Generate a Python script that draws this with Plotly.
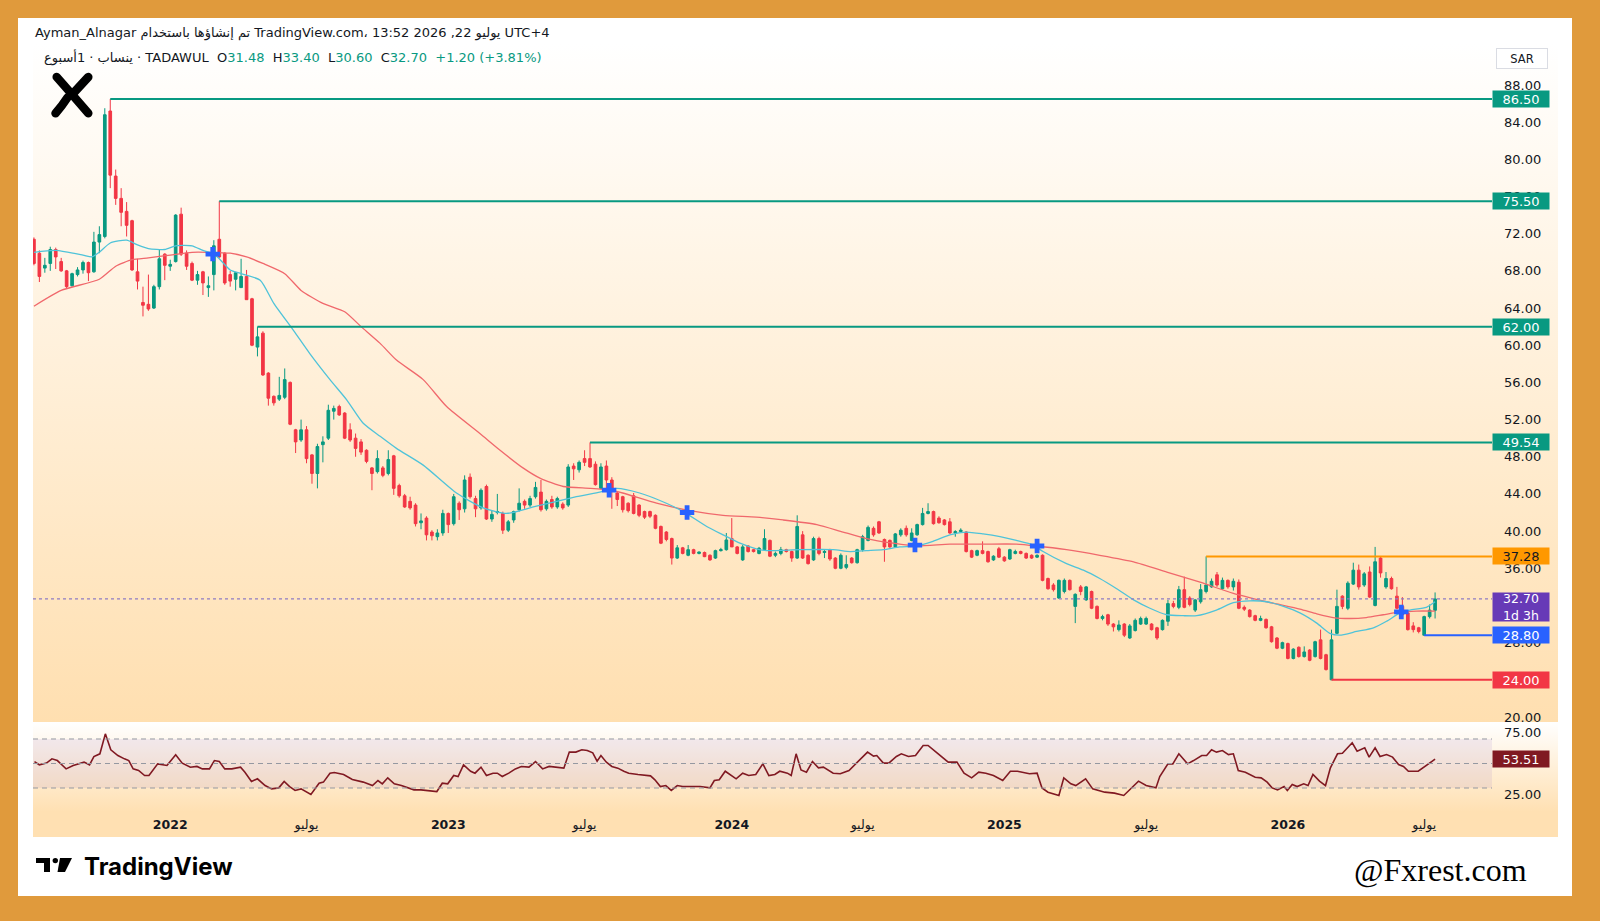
import base64
import plotly.graph_objects as go

# ---------------- data ----------------
opens = [71.4,69.9,68.3,68.8,70.3,69.0,68.0,66.4,67.6,68.1,68.9,67.9,71.1,71.7,85.2,78.2,75.8,74.4,73.4,67.9,
         64.6,64.4,64.0,66.3,69.8,68.5,69.0,74.1,69.9,68.8,67.0,67.9,66.2,67.6,71.4,69.9,67.6,67.1,66.2,67.4,
         65.0,59.8,61.3,57.0,54.5,54.2,54.4,56.0,50.9,49.8,50.9,48.2,46.2,49.3,50.0,52.9,53.4,52.7,50.9,50.0,
         49.6,48.7,46.8,46.4,46.8,46.2,48.1,44.9,43.8,43.2,42.8,40.9,41.4,39.9,39.4,39.8,41.9,40.8,43.0,42.4,
         45.8,43.5,42.5,44.8,41.3,42.0,41.9,40.1,41.2,42.3,43.2,42.8,43.7,44.2,42.4,43.4,42.6,42.9,42.8,47.0,
         46.6,47.8,47.8,47.2,44.6,47.0,45.5,44.1,43.7,43.0,43.8,42.8,42.1,42.1,41.7,40.5,39.9,39.2,37.1,38.2,
         37.4,38.0,37.6,37.7,37.4,37.1,37.9,38.0,39.2,38.3,36.9,38.4,38.0,37.6,38.0,39.0,37.4,37.6,38.0,37.8,
         37.1,39.6,37.4,36.9,39.2,37.7,38.0,37.1,36.0,36.1,37.1,36.6,38.0,39.0,40.3,41.0,39.1,39.0,38.3,39.6,
         40.3,39.0,39.6,40.7,41.9,42.1,41.4,41.2,41.0,39.8,39.95,39.9,37.9,37.4,37.9,37.8,36.9,38.1,37.2,37.0,
         37.6,37.8,37.6,37.4,37.2,37.4,34.9,34.2,32.8,33.5,34.7,31.9,34.0,32.6,33.5,31.9,30.6,31.0,30.0,29.4,
         30.0,28.5,29.3,30.0,30.0,30.0,29.6,29.4,30.3,32.2,31.8,33.7,32.8,31.5,32.4,33.5,34.0,35.3,33.8,34.7,
         34.0,34.5,31.8,31.5,30.9,30.4,30.5,29.7,28.5,27.4,27.9,26.3,27.5,26.5,27.2,26.5,28.3,26.7,24.0,29.0,
         33.0,31.7,34.3,35.8,34.2,35.6,32.0,37.1,34.0,34.9,33.0,31.9,31.2,29.8,29.6,28.8,30.8,31.48]
highs = [71.6,70.2,69.4,70.6,70.5,69.4,68.1,67.8,68.4,69.1,69.0,72.2,72.8,85.5,86.5,78.9,76.9,75.4,73.5,69.3,
         66.3,67.6,66.5,70.3,69.9,69.2,74.1,74.8,70.2,69.0,68.0,68.0,67.4,71.3,75.5,70.0,68.0,67.9,69.3,68.1,
         65.1,62.0,61.5,57.1,54.6,56.6,57.5,56.1,51.0,52.0,51.3,48.3,49.4,50.2,53.6,53.5,53.6,52.8,51.6,50.5,
         49.9,48.8,46.9,48.7,47.0,48.7,48.2,45.1,44.0,43.7,43.0,41.9,41.6,40.1,40.2,42.3,42.0,44.0,43.2,46.0,
         46.2,43.8,44.6,45.0,42.2,44.0,42.1,41.2,42.2,44.6,43.4,43.8,45.3,45.5,43.4,43.8,43.7,43.1,47.2,47.3,
         47.6,48.7,49.54,47.5,47.3,47.6,45.8,44.2,43.8,43.1,44.1,42.9,42.2,42.2,41.8,40.6,40.0,39.3,38.5,38.3,
         38.5,38.1,37.8,37.8,37.5,38.0,38.2,39.8,41.4,38.4,38.5,38.5,38.1,38.3,40.2,39.1,37.8,38.3,38.1,37.9,
         41.7,40.0,37.5,39.4,39.4,38.0,38.1,37.2,37.6,37.4,37.2,38.1,39.6,40.6,40.5,41.1,39.2,39.1,39.8,40.3,
         40.6,40.3,40.8,42.5,43.0,42.2,41.6,41.3,41.4,40.1,40.3,40.0,38.0,38.0,38.9,37.9,37.4,38.3,37.3,38.1,
         38.0,37.9,37.7,37.5,37.5,37.5,35.0,34.4,34.8,34.9,34.8,33.3,34.2,34.1,33.6,32.0,31.0,31.1,30.1,30.4,
         30.1,30.0,30.6,30.8,30.8,30.1,29.7,30.5,32.6,32.5,34.1,35.1,33.0,32.7,34.3,37.28,34.9,35.6,35.0,34.8,
         34.9,34.8,32.0,31.6,31.0,30.9,30.6,29.8,28.6,28.1,28.0,27.4,27.6,27.6,27.3,28.2,29.4,26.8,29.4,33.7,
         33.1,34.6,36.6,36.4,35.6,36.2,38.3,37.3,35.6,35.1,34.0,32.9,31.3,30.2,29.7,30.9,32.1,33.40]
lows = [68.6,66.8,67.8,68.0,68.2,67.9,66.1,66.3,67.4,67.7,66.9,67.8,69.9,71.5,76.9,75.1,72.8,71.7,68.0,66.0,
        63.1,63.7,63.9,66.0,67.0,68.0,68.9,69.6,68.1,66.9,66.5,65.4,65.2,65.9,69.4,66.5,66.3,65.9,66.2,64.9,
        59.9,58.8,56.7,53.5,53.5,54.0,54.2,51.4,48.4,49.6,47.3,45.1,44.6,47.4,49.8,52.0,52.4,49.9,49.6,48.0,
        48.2,47.3,44.4,46.2,45.8,46.0,43.9,43.6,42.5,42.3,40.5,40.2,39.0,39.0,39.0,39.5,39.8,40.6,41.2,42.0,
        43.5,41.5,42.3,41.2,41.0,41.8,39.7,39.9,40.9,42.1,42.4,42.6,43.5,42.1,42.2,42.4,42.4,42.3,42.6,45.5,
        46.3,47.0,46.8,44.9,44.5,44.5,42.4,42.7,42.0,42.0,41.8,41.5,41.3,41.4,40.2,38.6,38.9,36.4,37.0,37.5,
        37.3,37.5,37.5,37.2,36.8,37.0,37.8,37.9,38.3,37.5,36.8,37.7,37.7,37.5,37.9,37.2,37.2,37.4,37.7,36.7,
        37.0,37.0,36.4,36.8,37.4,37.1,36.8,35.9,35.9,35.9,36.5,36.5,37.8,38.9,39.4,39.7,36.7,38.2,38.2,39.4,
        39.4,38.9,39.5,40.6,41.8,40.7,40.8,40.6,39.7,39.4,39.9,37.7,37.1,37.3,37.5,36.6,36.8,37.1,36.7,36.9,
        37.5,37.5,37.0,37.0,37.1,34.6,33.7,33.5,32.7,33.3,33.6,30.1,33.1,32.5,31.6,30.5,30.4,29.8,29.2,29.2,
        28.6,28.4,29.2,29.9,29.9,29.3,28.3,29.3,29.8,31.7,31.6,31.7,31.9,31.3,32.2,33.3,33.9,34.0,33.7,33.8,
        33.6,31.6,31.4,30.7,30.3,30.3,29.5,28.0,27.3,27.3,26.2,26.2,26.4,26.4,26.0,26.4,26.2,25.0,24.0,28.9,
        31.6,31.5,34.2,33.7,34.0,32.8,31.9,35.0,33.8,33.7,31.6,30.9,29.3,29.1,29.0,28.8,30.6,30.60]
closes = [68.8,67.4,68.6,70.3,69.5,68.0,66.3,67.7,68.1,68.9,67.8,71.1,71.9,84.8,78.3,75.8,74.3,72.9,68.1,66.9,
          64.3,63.9,66.3,69.3,68.6,68.7,74.0,69.8,68.5,67.0,67.6,66.7,66.4,70.7,69.5,66.7,66.9,67.8,67.4,64.9,
          60.0,60.9,56.8,54.3,53.8,54.6,56.3,51.5,49.6,50.9,47.8,46.2,49.1,49.6,53.0,53.2,52.5,50.0,49.8,48.9,
          48.5,47.5,46.2,47.8,46.0,47.7,44.6,43.8,42.6,42.5,40.8,41.1,39.6,39.5,39.8,41.9,40.7,43.7,42.3,45.5,
          43.7,42.4,44.4,41.3,41.8,42.1,40.1,41.0,42.1,43.0,42.8,43.5,44.7,42.3,43.2,42.6,43.5,42.5,46.9,46.7,
          47.4,47.4,46.9,45.0,46.9,45.5,44.6,43.4,42.3,42.2,41.9,41.7,41.5,41.6,40.3,38.7,39.1,37.1,38.2,37.6,
          38.0,37.6,37.75,37.25,36.9,37.9,38.0,39.05,38.3,37.6,38.3,37.8,37.8,38.15,39.2,37.3,37.6,38.0,37.8,37.1,
          40.5,37.1,36.5,39.2,37.6,37.8,37.0,36.0,37.4,36.4,36.6,38.0,39.4,40.4,39.6,39.8,38.3,38.3,39.7,40.1,
          39.6,39.8,40.7,41.9,42.1,40.8,40.9,40.7,39.8,39.95,40.1,37.8,37.2,37.9,37.6,36.7,37.3,37.2,36.8,38.0,
          37.8,37.6,37.1,37.1,37.4,34.7,33.8,33.7,34.7,34.7,33.7,33.2,33.5,34.0,31.7,30.6,30.8,30.0,29.7,29.9,
          28.8,29.8,30.4,30.6,30.6,29.4,28.5,30.4,32.2,31.9,33.7,31.8,32.1,32.6,33.7,34.2,34.6,34.2,34.7,34.0,
          34.6,31.7,31.6,30.8,30.4,30.6,29.6,28.1,27.4,28.0,26.3,27.3,26.5,27.0,26.1,28.1,26.3,25.1,28.3,31.9,
          31.9,34.4,35.8,34.0,35.4,32.9,36.7,35.5,34.9,33.8,31.7,31.0,29.4,29.4,29.2,30.8,31.5,32.70]
bar_index = list(range(len(closes)))

# moving averages (read at sampled bar positions)
ma_fast_pos = [0,4,9,10.6,12,14,17,19,21,24,26,29,31,33,34,36,38,41.5,44,47.6,50.6,54.3,57.4,60.4,63.5,66.5,
               71.4,77.5,82.4,86.7,91.6,95.9,99.5,103.8,106.9,111.1,116,119.1,123.4,126.4,129.5,132.5,134.4,
               140.5,146.6,149.7,152.7,155.8,158.8,161.9,164.9,168,171,174.1,177.2,180.2,183.3,185.1,189.4,
               192.5,195.5,198.6,201.7,204.7,207.8,210.8,213.3,216.9,220,223,226.1,229.2,232.2,235.3,237.7,
               239.5,242.6,245.7,248.1,250.6,252.4,255.4,257]
ma_fast_val = [70.0,70.2,69.7,69.5,70.0,71.0,71.3,70.8,70.4,70.3,70.7,70.7,70.2,69.8,69.3,68.1,67.7,67.0,64.5,
               61.6,59.1,56.3,54.1,51.6,50.2,48.9,47.1,44.1,42.5,41.9,42.6,43.2,43.7,44.2,44.6,44.1,43.0,42.1,
               40.5,39.6,38.7,38.1,37.9,38.0,38.0,37.8,37.9,38.0,38.3,38.4,38.9,39.6,39.9,39.7,39.4,39.0,38.5,
               37.8,36.5,35.8,34.9,33.8,32.6,31.7,31.0,30.9,30.9,31.5,32.3,32.5,32.4,31.9,31.2,30.1,29.0,28.8,
               29.2,29.6,30.3,31.2,31.5,31.8,32.4]
ma_slow_pos = [0,5,12,15,18,21,25,29,32,36,39,42,46,49,53,57,60,63.5,66.5,71.4,75.7,81.8,85.5,89.7,92.8,97.1,
               102,105.6,108,114.2,120.3,126.4,132.5,137.4,143.6,148.4,152.7,157.6,161.9,168,174.1,180.2,
               183.9,189.4,195.5,201.7,207.8,213.9,220,226.1,232.2,235.3,238.3,241.4,244.4,247.5,250.6,
               253.6,257]
ma_slow_val = [64.2,65.9,67.1,68.5,69.2,69.4,69.7,70.0,70.0,69.9,69.5,68.8,67.7,65.9,64.5,63.6,62.0,60.2,58.4,
               56.3,53.4,50.5,48.7,46.8,45.7,44.8,44.6,44.4,44.1,43.0,42.2,41.7,41.5,41.2,40.7,39.9,39.2,38.7,
               38.4,38.6,38.6,38.6,38.4,38.0,37.4,36.7,35.6,34.5,33.3,32.4,31.6,31.1,30.7,30.6,30.7,31.0,31.3,
               31.4,31.4]
cross_pos = [32.8, 105.5, 119.8, 161.6, 184.0, 250.8]
cross_val = [69.8, 44.4, 42.0, 38.5, 38.4, 31.3]

# horizontal levels (start bar, price)
level_start = [14, 34, 41, 102, 215, 238, 255]
level_price = [86.50, 75.50, 62.00, 49.54, 37.28, 24.00, 28.80]
level_color = ["#089981", "#089981", "#089981", "#089981", "#FF9800", "#F23645", "#2962FF"]
level_text_color = ["#FFFFFF", "#FFFFFF", "#FFFFFF", "#FFFFFF", "#131722", "#FFFFFF", "#FFFFFF"]
last_price = 32.70

# RSI (read at bar positions)
rsi_pos = [0.1,1.0,2.3,3.3,4.3,5.9,7.2,8.4,9.2,10.2,11.0,12.1,13.1,14.1,15.4,16.6,17.4,18.2,19.2,20.3,21.1,22.7,
           24.4,26.0,27.2,28.7,29.9,30.9,32.2,33.1,34.0,35.0,36.3,37.9,38.7,39.9,41.0,42.4,43.6,44.9,45.9,46.9,
           47.9,49.0,49.8,50.8,52.3,53.1,54.3,55.1,56.8,58.4,60.4,62.1,63.1,63.9,64.9,66.1,67.4,68.3,69.7,71.0,
           72.7,73.9,74.9,75.9,77.0,77.8,78.8,80.1,80.9,82.0,83.0,84.2,85.0,85.9,87.1,88.3,89.4,90.8,92.0,93.3,
           94.5,95.7,97.2,98.2,99.4,100.5,101.5,102.5,103.3,104.0,105.0,106.0,107.1,108.2,109.1,110.8,113.1,
           113.9,114.9,115.9,116.9,118.0,119.0,120.6,122.2,124.0,124.8,125.7,126.8,128.8,130.0,131.1,132.4,
           133.7,134.8,135.9,136.8,138.2,138.9,139.8,140.7,141.7,142.8,143.9,144.8,146.6,147.9,149.5,151.0,
           152.9,154.0,154.6,155.8,156.8,158.2,159.1,160.4,161.7,163.1,164.0,165.7,167.7,169.3,170.6,172.0,
           173.3,174.6,176.0,177.7,179.1,180.4,182.6,184.0,184.9,186.0,188.0,188.9,190.2,191.1,192.9,194.2,
           195.1,196.4,198.2,199.9,202.6,204.0,205.8,206.5,208.0,208.9,210.0,211.6,212.7,214.2,215.1,216.0,
           216.9,218.0,219.1,220.0,220.9,222.2,224.0,225.1,226.2,227.1,228.1,229.3,229.9,230.8,231.7,232.9,
           233.7,234.6,235.8,236.9,237.8,239.1,240.0,241.8,242.7,244.1,244.9,246.0,246.9,248.1,249.2,250.3,
           251.2,252.1,253.9,255.3,257.0]
rsi_val = [51.6,48.9,50.3,53.8,52.4,45.6,48.4,49.7,51.1,48.9,55.7,57.9,74.2,61.2,56.5,53.8,52.4,45.6,44.3,40.2,
           40.2,49.7,48.4,57.1,50.3,47.0,47.6,45.6,45.6,52.4,51.6,45.6,45.6,47.0,42.9,35.3,37.5,32.0,29.3,30.1,
           35.3,31.2,28.0,29.3,27.4,24.7,33.9,34.8,42.1,42.7,41.0,36.9,34.8,32.0,36.1,33.4,38.3,33.4,32.0,30.7,
           28.5,28.5,27.4,27.1,33.9,33.4,40.2,39.4,48.9,43.7,42.1,47.0,40.2,42.1,42.1,39.4,42.1,45.6,47.6,47.0,
           51.6,45.6,47.6,47.0,46.2,59.3,59.3,61.2,60.6,58.7,51.9,56.5,51.1,47.6,46.2,43.7,42.1,41.0,39.9,36.7,
           31.2,32.0,28.0,32.0,31.2,31.2,31.2,30.1,36.1,36.7,43.7,37.5,42.1,40.2,41.0,49.7,40.2,41.0,43.7,42.1,
           40.2,57.9,44.8,42.9,51.6,46.5,47.0,42.1,41.6,44.3,51.1,59.3,56.0,56.5,50.3,50.3,55.7,57.9,55.7,56.5,
           64.7,64.7,58.4,51.1,51.1,42.1,38.3,42.9,42.1,40.2,36.1,43.7,43.7,41.6,42.1,30.1,26.6,23.9,38.3,33.4,
           32.0,37.5,29.3,28.0,26.6,25.8,23.9,35.6,32.0,30.1,39.4,49.7,49.7,57.9,49.7,52.4,56.5,56.5,61.2,59.3,
           60.6,57.3,57.9,44.3,42.9,38.8,38.3,34.8,30.1,28.5,31.2,28.0,32.9,31.2,33.4,32.0,41.0,35.6,32.0,46.5,
           57.9,58.4,66.9,60.1,62.8,55.2,62.8,55.7,57.3,55.2,49.2,47.6,43.7,43.7,48.4,53.51]
rsi_last = 53.51

# time axis labels (bar index of first bar of period)
time_tick_pos = [25, 50, 76, 101, 128, 152, 178, 204, 230, 255]
time_tick_text = ["<b>2022</b>", "يوليو", "<b>2023</b>", "يوليو", "<b>2024</b>", "يوليو",
                  "<b>2025</b>", "يوليو", "<b>2026</b>", "يوليو"]
price_ticks = [20, 28, 36, 40, 44, 48, 52, 56, 60, 64, 68, 72, 76, 80, 84, 88]

# ---------------- layout geometry ----------------
W, H = 1600, 921
ML, MR, MT, MB = 33, 108, 44, 109
PW, PH = W - ML - MR, H - MT - MB
XR = [-0.17, 267.44]
Y1R = [19.57, 92.41]
Y2R = [10.41, 83.88]


def fx(p):
    return (p - ML) / PW


def fy(p):
    return (H - MB - p) / PH


GREEN, RED = "#089981", "#F23645"
FONT = "DejaVu Sans"

svg = f'''<svg xmlns="http://www.w3.org/2000/svg" width="{W}" height="{H}" viewBox="0 0 {W} {H}">
<defs>
<linearGradient id="g1" x1="0" y1="0" x2="0" y2="1"><stop offset="0" stop-color="#FFFFFF"/><stop offset="1" stop-color="#FFDFB0"/></linearGradient>
<linearGradient id="g2" x1="0" y1="0" x2="0" y2="1"><stop offset="0" stop-color="#FFFFFF"/><stop offset="0.78" stop-color="#FFE0B2"/><stop offset="1" stop-color="#FFE0B2"/></linearGradient>
</defs>
<rect width="{W}" height="{H}" fill="#E09A3C"/>
<rect x="18" y="18" width="1554" height="878" fill="#FFFFFF"/>
<rect x="33" y="44" width="1525" height="678" fill="url(#g1)"/>
<rect x="33" y="722" width="1525" height="115" fill="url(#g2)"/>
<g stroke="#000" stroke-width="8.5" stroke-linecap="round" stroke-linejoin="round" fill="none">
<path d="M56.7,77 Q70,92 88.3,113.3"/><path d="M88.3,77 L74,92.5"/><path d="M67.5,97.5 Q62,106 55.5,113.3"/>
</g>
<path d="M36,858 h14 v14 h-6 v-9 h-8 z" fill="#000"/>
<circle cx="55.3" cy="860.6" r="2.7" fill="#000"/>
<path d="M60,858 h12 l-7,14 h-7.5 z" fill="#000"/>
</svg>'''
bg_src = "data:image/svg+xml;base64," + base64.b64encode(svg.encode()).decode()

fig = go.Figure()

fig.add_trace(go.Candlestick(
    x=bar_index, open=opens, high=highs, low=lows, close=closes,
    increasing=dict(line=dict(color=GREEN, width=1), fillcolor=GREEN),
    decreasing=dict(line=dict(color=RED, width=1), fillcolor=RED),
    whiskerwidth=0, hoverinfo="skip", xaxis="x", yaxis="y", showlegend=False))

fig.add_trace(go.Scatter(x=ma_slow_pos, y=ma_slow_val, mode="lines",
                         line=dict(color="#F0686C", width=1.3, shape="spline", smoothing=0.6),
                         hoverinfo="skip", showlegend=False))
fig.add_trace(go.Scatter(x=ma_fast_pos, y=ma_fast_val, mode="lines",
                         line=dict(color="#4FC3D9", width=1.3, shape="spline", smoothing=0.6),
                         hoverinfo="skip", showlegend=False))

for s, p, c in zip(level_start, level_price, level_color):
    fig.add_trace(go.Scatter(x=[s, XR[1]], y=[p, p], mode="lines", line=dict(color=c, width=2),
                             hoverinfo="skip", showlegend=False))

fig.add_trace(go.Scatter(x=XR, y=[last_price, last_price], mode="lines",
                         line=dict(color="#8E7CC3", width=1.2, dash="dot"),
                         hoverinfo="skip", showlegend=False))

fig.add_trace(go.Scatter(x=cross_pos, y=cross_val, mode="markers",
                         marker=dict(symbol="cross", size=12, color="#2962FF", line=dict(width=0)),
                         hoverinfo="skip", showlegend=False))

fig.add_trace(go.Scatter(x=rsi_pos, y=rsi_val, mode="lines", xaxis="x2", yaxis="y2",
                         line=dict(color="#801922", width=1.6), hoverinfo="skip", showlegend=False))

shapes = [
    dict(type="rect", xref="x2 domain", yref="y2", x0=0, x1=1, y0=30, y1=70,
         fillcolor="rgba(126,87,194,0.10)", line=dict(width=0), layer="below"),
]
for lv in (70, 50, 30):
    shapes.append(dict(type="line", xref="x2 domain", yref="y2", x0=0, x1=1, y0=lv, y1=lv,
                       line=dict(color="#9598A1", width=1, dash="5px,4px"), layer="above"))

ann = []
for p, c, tc in zip(level_price, level_color, level_text_color):
    ann.append(dict(x=1, xref="paper", xanchor="left", y=p, yref="y", yanchor="middle",
                    text=f"{p:.2f}", showarrow=False, bgcolor=c, width=54, height=14, borderpad=1,
                    font=dict(family=FONT, size=13, color=tc)))
ann.append(dict(x=1, xref="paper", xanchor="left", y=last_price, yref="y", yanchor="top", yshift=7,
                text=f"{last_price:.2f}<br>1d 3h", showarrow=False, bgcolor="#673AB7", width=54,
                height=26, borderpad=1, font=dict(family=FONT, size=12.5, color="#FFFFFF")))
ann.append(dict(x=1, xref="paper", xanchor="left", y=rsi_last, yref="y2", yanchor="middle",
                text=f"{rsi_last:.2f}", showarrow=False, bgcolor="#801922", width=54, height=14,
                borderpad=1, font=dict(family=FONT, size=13, color="#FFFFFF")))
ann.append(dict(x=fx(1522), y=fy(58.5), xref="paper", yref="paper", xanchor="center", yanchor="middle",
                text="SAR", showarrow=False, bgcolor="#FFFFFF", bordercolor="#DADCE3", borderwidth=1,
                width=48, height=17, font=dict(family=FONT, size=11.5, color="#131722")))
ann.append(dict(x=fx(33), y=fy(32.5), xref="paper", yref="paper", xanchor="left", yanchor="middle",
                text="Ayman_Alnagar تم إنشاؤها باستخدام TradingView.com، يوليو 22, 2026 13:52 UTC+4",
                showarrow=False, font=dict(family=FONT, size=13, color="#131722")))
g = lambda t: f"<span style='color:{GREEN}'>{t}</span>"
line2 = ("ينساب · 1أسبوع · TADAWUL\u00a0\u00a0O" + g("31.48") + "\u00a0\u00a0H" + g("33.40") +
         "\u00a0\u00a0L" + g("30.60") + "\u00a0\u00a0C" + g("32.70") + "\u00a0\u00a0" + g("+1.20 (+3.81%)"))
ann.append(dict(x=fx(42), y=fy(57.5), xref="paper", yref="paper", xanchor="left", yanchor="middle",
                text=line2, showarrow=False, font=dict(family=FONT, size=13, color="#131722")))
ann.append(dict(x=fx(82), y=fy(866), xref="paper", yref="paper", xanchor="left", yanchor="middle",
                text="<b>TradingView</b>", showarrow=False, font=dict(family="Inter", size=24, color="#000000")))
ann.append(dict(x=fx(1352), y=fy(870), xref="paper", yref="paper", xanchor="left", yanchor="middle",
                text="@Fxrest.com", showarrow=False,
                font=dict(family="Liberation Serif", size=32, color="#000000")))

fig.update_layout(
    width=W, height=H, margin=dict(l=ML, r=MR, t=MT, b=MB),
    paper_bgcolor="#E09A3C", plot_bgcolor="rgba(0,0,0,0)",
    showlegend=False, hovermode=False, dragmode=False,
    images=[dict(source=bg_src, xref="paper", yref="paper", x=fx(0), y=fy(0),
                 sizex=W / PW, sizey=H / PH, xanchor="left", yanchor="top",
                 sizing="stretch", layer="below")],
    xaxis=dict(domain=[0, 1], range=XR, anchor="y", showgrid=False, zeroline=False,
               showticklabels=False, ticks="", rangeslider=dict(visible=False), fixedrange=True),
    xaxis2=dict(domain=[0, 1], range=XR, anchor="y2", matches="x", showgrid=False, zeroline=False,
                tickmode="array", tickvals=time_tick_pos, ticktext=time_tick_text, ticks="",
                tickfont=dict(family=FONT, size=12.5, color="#131722"), ticklabelstandoff=3),
    yaxis=dict(domain=[0.1185, 1], range=Y1R, side="right", showgrid=False, zeroline=False,
               tickmode="array", tickvals=price_ticks, ticktext=[f"{v:.2f}" for v in price_ticks],
               ticks="", ticklabelstandoff=11, tickfont=dict(family=FONT, size=13, color="#131722")),
    yaxis2=dict(domain=[0, 0.1172], range=Y2R, side="right", showgrid=False, zeroline=False,
                tickmode="array", tickvals=[25, 75], ticktext=["25.00", "75.00"], ticks="",
                ticklabelstandoff=11, tickfont=dict(family=FONT, size=13, color="#131722")),
    shapes=shapes, annotations=ann,
)

fig.write_html("out.html")
